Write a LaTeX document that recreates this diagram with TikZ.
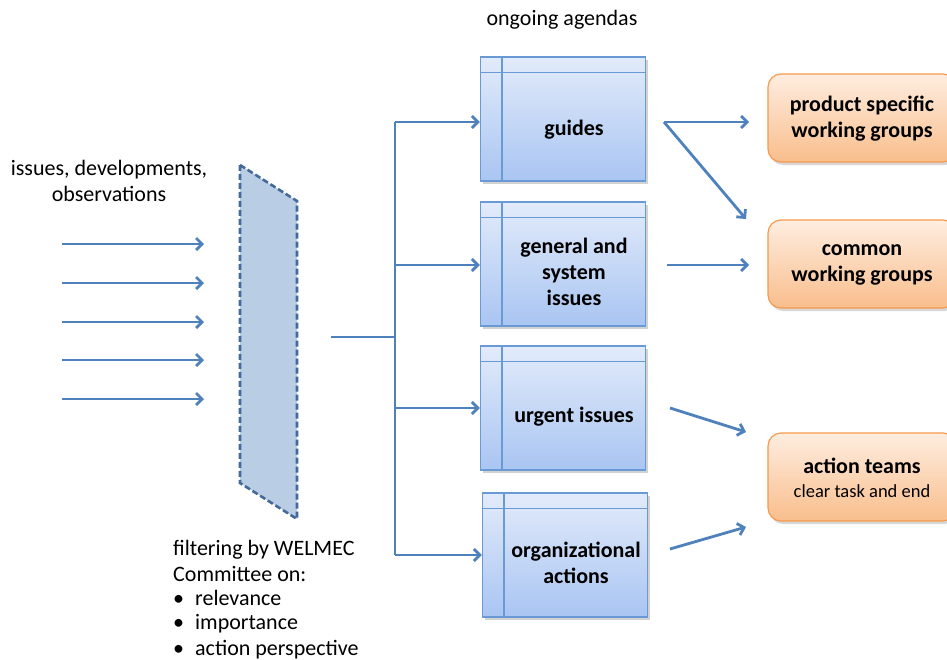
\documentclass[tikz,border=0pt]{standalone}
\usepackage{fontspec}
\setmainfont{Carlito}
\usetikzlibrary{arrows.meta,calc,shadows}
\definecolor{arrowblue}{HTML}{4F81BD}
\definecolor{boxline}{HTML}{6A9AD6}
\definecolor{boxtop}{HTML}{E2EBFA}
\definecolor{boxbot}{HTML}{A9C5F2}
\definecolor{ortop}{HTML}{FEEDE0}
\definecolor{orbot}{HTML}{F9BE8C}
\definecolor{orline}{HTML}{F59A4E}
\definecolor{filterfill}{HTML}{B9CDE5}
\definecolor{filterline}{HTML}{44699A}
\tikzset{
  flow/.style={draw=arrowblue, line width=2.8pt, -{Straight Barb[length=6pt,width=12pt,line width=2.8pt]}},
  trunk/.style={draw=arrowblue, line width=2.8pt},
  agenda/.style={draw=boxline, line width=1.2pt, top color=boxtop, bottom color=boxbot,
    minimum width=165pt, minimum height=124pt, inner sep=0pt,
    drop shadow={shadow xshift=2pt, shadow yshift=-3pt, opacity=0.35}},
  agtext/.style={font=\bfseries\fontsize{22}{26}\selectfont, align=center, inner sep=0pt},
  group/.style={draw=orline, line width=1.2pt, top color=ortop, bottom color=orbot,
    rounded corners=13pt, minimum width=188pt, minimum height=88pt, inner sep=0pt,
    drop shadow={shadow xshift=2pt, shadow yshift=-3pt, opacity=0.3}},
  grtext/.style={font=\bfseries\fontsize{22}{26}\selectfont, align=center, inner sep=0pt},
  plain/.style={font=\fontsize{22}{26}\selectfont, align=center, inner sep=0pt},
  bullet/.style={font=\fontsize{22}{26}\selectfont, anchor=west, inner sep=0pt},
}
\begin{document}
\begin{tikzpicture}[x=1pt,y=-1pt]
\clip (0,0) rectangle (947,659);
\fill[white] (0,0) rectangle (947,659);

% titles
\node[plain] (title) at (562,20) {ongoing agendas};
\node[plain] (issues) at (109,181) {issues, developments,\\observations};

% input arrows
\foreach \y [count=\i] in {244,283,322,360,399}{
  \coordinate (in\i) at (62,\y);
  \coordinate (out\i) at (204,\y);
  \draw[flow] (in\i) -- (out\i);
}

% filter
\coordinate (f1) at (240,165);
\coordinate (f2) at (297,201);
\coordinate (f3) at (297,519);
\coordinate (f4) at (240,483);
\draw[fill=filterfill, draw=filterline, line width=2.6pt, dash pattern=on 6pt off 3pt]
  (f1) -- (f2) -- (f3) -- (f4) -- cycle;

% filter text
\node[plain, align=left, anchor=west] (filt) at (173,561)
  {filtering by WELMEC\\Committee on:};
\node[bullet] (b1) at (173,598) {\textbullet\hspace{11pt}relevance};
\node[bullet] (b2) at (173,624) {\textbullet\hspace{11pt}importance};
\node[bullet] (b3) at (173,650) {\textbullet\hspace{11pt}action perspective};

% agenda boxes
\foreach \n/\x/\y in {g/563/119, s/563/264, u/563/408, o/565/555}{
  \node[agenda] (\n) at (\x,\y) {};
  \draw[boxline, line width=1.2pt] ($(\n.north west)+(22,0)$) -- ($(\n.south west)+(22,0)$);
  \draw[boxline, line width=1.2pt] ($(\n.north west)+(0,16)$) -- ($(\n.north east)+(0,16)$);
}
\node[agtext] (gt) at (574,130) {guides};
\node[agtext] (st) at (574,272) {general and\\system\\issues};
\node[agtext] (ut) at (574,417) {urgent issues};
\node[agtext] (ot) at (576,563) {organizational\\actions};

% distribution
\coordinate (d0) at (331,337);
\coordinate (dj) at (395,337);
\coordinate (dt) at (395,122);
\coordinate (db) at (395,555);
\draw[trunk] (d0) -- (dj);
\draw[trunk] (dt) -- (db);
\coordinate (t1) at (395,122);
\coordinate (t2) at (395,265);
\coordinate (t3) at (395,408);
\coordinate (t4) at (395,555);
\draw[flow] (t1) -- (g.west |- t1);
\draw[flow] (t2) -- (s.west |- t2);
\draw[flow] (t3) -- (u.west |- t3);
\draw[flow] (t4) -- (o.west |- t4);

% groups
\node[group] (p) at (862,118) {};
\node[grtext] (pt) at (862,119) {product specific\\working groups};
\node[group] (c) at (862,264) {};
\node[grtext] (ct) at (862,265) {common\\working groups};
\node[group] (a) at (862,477) {};
\node[grtext] (at1) at (862,466) {action teams};
\node[font=\fontsize{18.5}{22}\selectfont, inner sep=0pt] (at2) at (862,491) {clear task and end};

% outputs
\coordinate (r1) at (664,122);
\coordinate (r2) at (667,265);
\coordinate (r3) at (670,408);
\coordinate (r4) at (670,549);
\coordinate (e1) at (749,122);
\coordinate (e2) at (746,219);
\coordinate (e3) at (749,265);
\coordinate (e4) at (746,432);
\coordinate (e5) at (746,527);
\draw[flow] (r1) -- (e1);
\draw[flow] (r1) -- (e2);
\draw[flow] (r2) -- (e3);
\draw[flow] (r3) -- (e4);
\draw[flow] (r4) -- (e5);
\end{tikzpicture}
\end{document}
